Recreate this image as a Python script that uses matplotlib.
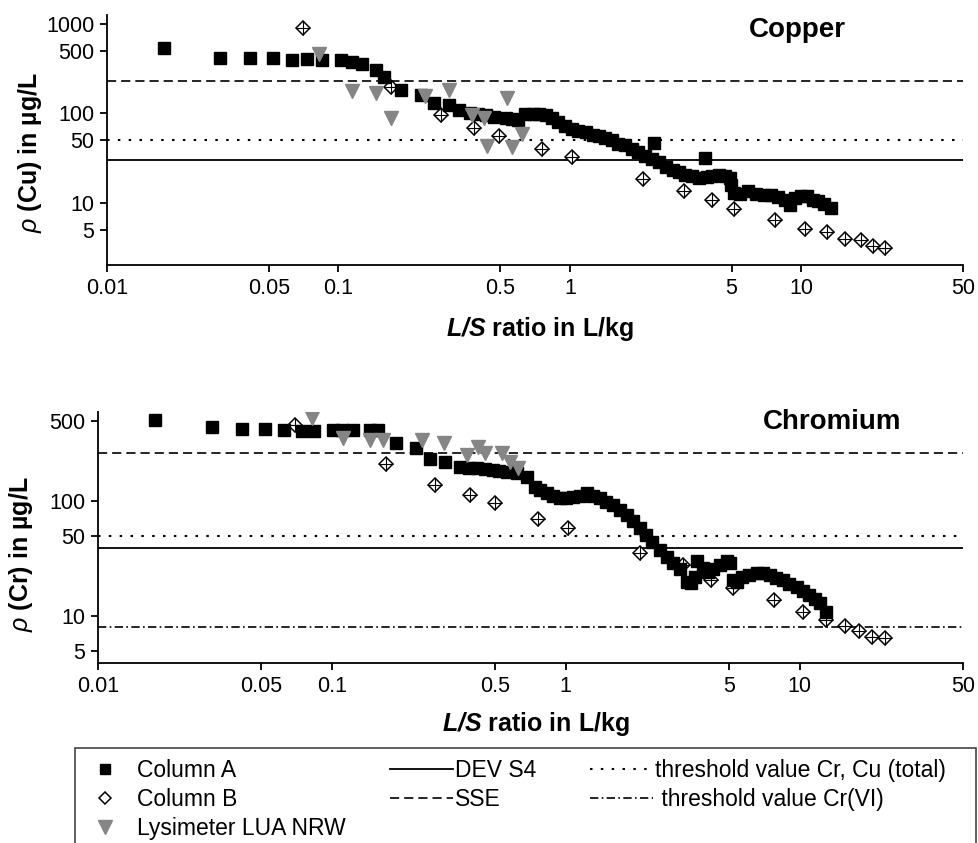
import matplotlib
matplotlib.use("Agg")
import matplotlib.pyplot as plt
from matplotlib.lines import Line2D
from matplotlib.patches import Rectangle
from matplotlib.ticker import FixedLocator, NullLocator

plt.rcParams['font.family'] = ['Liberation Sans', 'DejaVu Sans']
plt.rcParams['mathtext.fontset'] = 'custom'
plt.rcParams['mathtext.rm'] = 'Liberation Sans'
plt.rcParams['mathtext.it'] = 'Liberation Sans:italic'
plt.rcParams['mathtext.bf'] = 'Liberation Sans:bold'
plt.rcParams['mathtext.bfit'] = 'Liberation Sans:italic:bold'

# ---- Kupfer: Säule A (schwarze Quadrate)
cu_a_x = [0.0176, 0.0307, 0.0413, 0.052, 0.0627, 0.0728, 0.0846, 0.103, 0.115, 0.126,
          0.146, 0.158, 0.187, 0.228, 0.26, 0.30, 0.333, 0.37, 0.40, 0.433,
          0.47, 0.528, 0.56, 0.60, 0.641, 0.69, 0.735, 0.785, 0.836, 0.89,
          0.95, 1.02, 1.09, 1.17, 1.26, 1.34, 1.42, 1.52, 1.62, 1.74,
          1.86, 1.98, 2.12, 2.27, 2.30, 2.42, 2.6, 2.78, 2.95, 3.15,
          3.37, 3.6, 3.82, 3.9, 4.13, 4.4, 4.7, 4.9, 4.99, 5.1,
          5.45, 5.9, 6.4, 6.9, 7.4, 7.9, 8.5, 8.9, 9.4, 10.0,
          10.6, 11.2, 11.8, 12.6, 13.5]
cu_a_y = [537, 415, 415, 415, 394, 400, 394, 394, 374, 355,
          304, 254, 181, 159, 130, 123, 108, 102, 98, 95,
          92, 89.5, 87, 85, 99, 99, 99, 95, 90, 80,
          73, 67, 64, 61.7, 58, 56, 53, 50, 46, 44,
          40, 37, 34, 31, 47, 29, 25.5, 23.5, 22.5, 20.5,
          20, 19, 32, 19.5, 20, 20.5, 20, 19, 16, 13,
          12.6, 13.6, 12.8, 12.5, 12.2, 11.8, 11, 9.6, 11.5, 12,
          12, 11, 10.5, 9.7, 8.8]

# ---- Kupfer: Säule B (Rauten)
cu_b_x = [0.070, 0.169, 0.278, 0.386, 0.494, 0.757, 1.02, 2.07, 3.10, 4.13,
          5.14, 7.73, 10.4, 12.9, 15.5, 18.2, 20.4, 23.0]
cu_b_y = [900, 196, 95, 69.6, 56.6, 40.5, 32.9, 18.6, 13.7, 10.8,
          8.6, 6.46, 5.13, 4.73, 4.04, 3.85, 3.32, 3.2]

# ---- Kupfer: Lysimeter
cu_l_x = [0.0828, 0.114, 0.146, 0.168, 0.237, 0.30, 0.379, 0.426, 0.438, 0.535, 0.56, 0.62]
cu_l_y = [460, 177, 168, 90, 155, 181, 95, 90, 43.6, 147, 42.6, 59.6]

# ---- Chrom: Säule A
cr_a_x = [0.0175, 0.0307, 0.0412, 0.0518, 0.0624, 0.0745, 0.0838, 0.101, 0.110, 0.123,
          0.145, 0.157, 0.188, 0.229, 0.262, 0.304, 0.352, 0.385, 0.417, 0.45,
          0.488, 0.52, 0.56, 0.618, 0.681, 0.738, 0.78, 0.83, 0.885, 0.943,
          1.0, 1.07, 1.15, 1.23, 1.31, 1.40, 1.49, 1.59, 1.70, 1.82,
          1.94, 2.07, 2.2, 2.35, 2.52, 2.70, 2.88, 3.07, 3.29, 3.45,
          3.58, 3.63, 3.85, 4.05, 4.25, 4.55, 4.88, 5.05, 5.17, 5.4,
          5.70, 6.1, 6.55, 7.0, 7.45, 7.9, 8.46, 9.05, 9.71, 10.3,
          11.0, 11.6, 12.2, 13.0]
cr_a_y = [506, 440, 423, 423, 415, 406, 406, 415, 415, 415,
          415, 415, 319, 289, 236, 218, 198, 196, 194, 190,
          186, 182, 179, 175, 162, 132, 125, 117, 111, 106,
          107, 108, 112, 117, 111, 106, 99, 92, 84, 76,
          68, 58, 51, 44, 38, 33, 29, 25.5, 20, 19.5,
          22, 30, 26, 24, 25.5, 28, 30, 29, 20.5, 20,
          21.8, 23, 23.7, 23.5, 22.7, 21.5, 20.5, 19, 17.9, 16.5,
          15.2, 14, 13, 10.8]

# ---- Chrom: Säule B
cr_b_x = [0.0695, 0.170, 0.275, 0.389, 0.498, 0.759, 1.02, 2.07, 3.16, 4.17,
          5.17, 7.74, 10.3, 13.0, 15.6, 18.0, 20.5, 23.3]
cr_b_y = [458, 210, 138, 113, 96, 69.8, 58.3, 35.3, 27.8, 20.5,
          17.5, 13.8, 10.8, 9.2, 8.2, 7.4, 6.6, 6.4]

# ---- Chrom: Lysimeter
cr_l_x = [0.082, 0.112, 0.145, 0.165, 0.243, 0.301, 0.377, 0.421, 0.451, 0.532, 0.576, 0.624]
cr_l_y = [527, 353, 339, 339, 339, 319, 251, 295, 262, 262, 218, 194]

# Grenz-/Prüfwerte
cu_dev = 30
cu_sse = 228
cu_total = 50
cr_dev = 39
cr_sse = 265
cr_total = 50
cr_vi = 8

xticks = [0.01, 0.05, 0.1, 0.5, 1, 5, 10, 50]
xticklabels = ['0.01', '0.05', '0.1', '0.5', '1', '5', '10', '50']

GRAY = '#858585'
DASH = (0, (5.5, 3))
DOT = (0, (1.2, 4))
DASHDOT = (0, (5, 2, 1, 2))

W, H = 979, 843
fig = plt.figure(figsize=(W / 100, H / 100), dpi=100)
ax1 = fig.add_axes([107 / W, 1 - 265 / H, 856 / W, 250 / H])
ax2 = fig.add_axes([98 / W, 1 - 663 / H, 865 / W, 251 / H])


def draw_panel(ax, ax_, ay_, bx, by, lx, ly, ylim, yticks, ylabel, title, lines, tx, ty):
    ax.set_xscale('log')
    ax.set_yscale('log')
    for val, ls, lw in lines:
        ax.axhline(val, color='black', linestyle=ls, linewidth=lw, zorder=1)
    ax.plot(bx, by, linestyle='none', marker='D', ms=7.5, mfc='white', mec='black',
            mew=1.1, zorder=2)
    ax.plot(bx, by, linestyle='none', marker='+', ms=10, mec='black', mew=0.8, zorder=2.1)
    ax.plot(ax_, ay_, linestyle='none', marker='s', ms=8.5, color='black', zorder=3)
    ax.plot(lx, ly, linestyle='none', marker='v', ms=10.5, color=GRAY, zorder=4)
    ax.set_xlim(0.01, 50)
    ax.set_ylim(*ylim)
    ax.xaxis.set_major_locator(FixedLocator(xticks))
    ax.xaxis.set_minor_locator(NullLocator())
    ax.set_xticklabels(xticklabels)
    ax.yaxis.set_major_locator(FixedLocator(yticks))
    ax.yaxis.set_minor_locator(NullLocator())
    ax.set_yticklabels([str(v) for v in yticks])
    for s in ['top', 'right']:
        ax.spines[s].set_visible(False)
    for s in ['left', 'bottom']:
        ax.spines[s].set_linewidth(1.3)
    ax.tick_params(direction='out', length=5, width=1.3, labelsize=15.5, pad=4)
    ax.set_ylabel(ylabel, fontsize=18, fontweight='bold')
    ax.set_xlabel(r'$\mathbfit{L/S}$ ratio in L/kg', fontsize=18, fontweight='bold')
    ax.text(tx, ty, title, transform=ax.transAxes, fontsize=20, fontweight='bold',
            ha='center', va='center')


draw_panel(ax1, cu_a_x, cu_a_y, cu_b_x, cu_b_y, cu_l_x, cu_l_y, (2.05, 1250),
           [5, 10, 50, 100, 500, 1000], r'$\rho$ (Cu) in µg/L', 'Copper',
           [(cu_dev, '-', 1.3), (cu_sse, DASH, 1.2), (cu_total, DOT, 1.5)], 0.806, 0.94)
ax1.yaxis.set_label_coords(-0.074, 0.452)
ax1.xaxis.set_label_coords(0.506, -0.2)

draw_panel(ax2, cr_a_x, cr_a_y, cr_b_x, cr_b_y, cr_l_x, cr_l_y, (3.9, 600),
           [5, 10, 50, 100, 500], r'$\rho$ (Cr) in µg/L', 'Chromium',
           [(cr_dev, '-', 1.3), (cr_sse, DASH, 1.2), (cr_total, DOT, 1.5),
            (cr_vi, DASHDOT, 1.2)], 0.849, 0.96)
ax2.yaxis.set_label_coords(-0.073, 0.434)
ax2.xaxis.set_label_coords(0.506, -0.187)

# Legende: drei Spalten von Hand, mit gemeinsamem Rahmen
fig.patches.append(Rectangle((75 / W, -0.05), 901 / W, (843 - 748) / H + 0.05,
                             transform=fig.transFigure, fill=False,
                             edgecolor='#444444', linewidth=1.2))

col1 = [Line2D([], [], linestyle='none', marker='s', ms=7.5, color='black'),
        Line2D([], [], linestyle='none', marker='D', ms=6.5, mfc='white', mec='black', mew=1.1),
        Line2D([], [], linestyle='none', marker='v', ms=9.5, color=GRAY)]
col2 = [Line2D([], [], color='black', linestyle='-', linewidth=1.3),
        Line2D([], [], color='black', linestyle=DASH, linewidth=1.2)]
col3 = [Line2D([], [], color='black', linestyle=DOT, linewidth=1.5),
        Line2D([], [], color='black', linestyle=DASHDOT, linewidth=1.2)]

top = 1 - 759 / H
leg_kw = dict(loc='upper left', frameon=False, borderpad=0, borderaxespad=0,
              fontsize=16.5, labelspacing=0.27)
leg1 = fig.legend(col1, ['Column A', 'Column B', 'Lysimeter LUA NRW'],
                  bbox_to_anchor=(97 / W, top), handlelength=0.7,
                  handletextpad=1.03, **leg_kw)
leg2 = fig.legend(col2, ['DEV S4', 'SSE'],
                  bbox_to_anchor=(390 / W, top), handlelength=2.75,
                  handletextpad=0.1, **leg_kw)
leg3 = fig.legend(col3, ['threshold value Cr, Cu (total)', ' threshold value Cr(VI)'],
                  bbox_to_anchor=(590 / W, top), handlelength=2.75,
                  handletextpad=0.1, **leg_kw)

fig.savefig('out.png', dpi=100)
